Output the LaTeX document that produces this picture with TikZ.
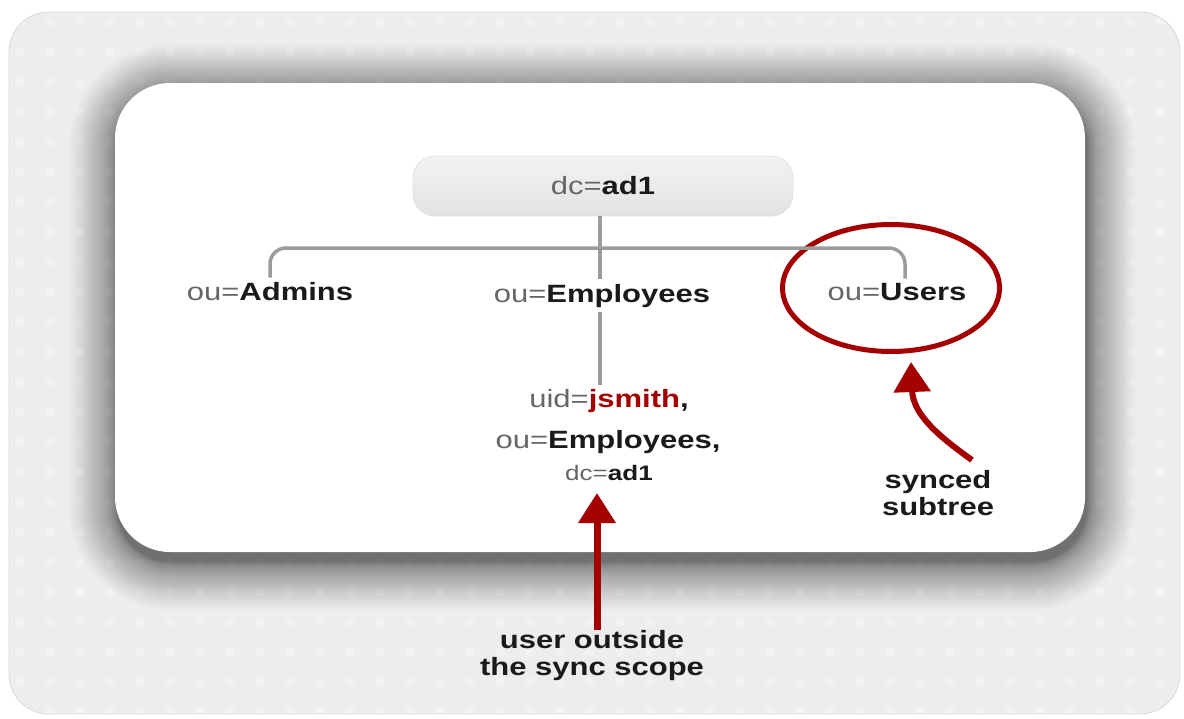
\documentclass[tikz,border=0pt]{standalone}
\usepackage{fontspec}
\setmainfont{Liberation Sans}[FakeStretch=1.24]
\usetikzlibrary{arrows.meta,shapes.geometric}
\definecolor{dkred}{HTML}{A40000}
\definecolor{pre}{HTML}{666666}
\definecolor{txt}{HTML}{1A1A1A}
\definecolor{treeline}{HTML}{9C9C9C}
\definecolor{bgout}{HTML}{EDEDED}
\newcommand\pfx[1]{{\color{pre}\mdseries #1}}
\begin{document}
\begin{tikzpicture}[x=1pt,y=-1pt,
  lbl/.style={font=\fontsize{25}{27}\selectfont\bfseries, text=txt, inner sep=4pt},
  smalllbl/.style={font=\fontsize{21}{23}\selectfont\bfseries, text=txt, inner sep=4pt},
  note/.style={font=\fontsize{25}{27}\selectfont\bfseries, text=txt, inner sep=0pt, align=center},
  pill/.style={lbl, rounded corners=22pt, minimum width=380pt, minimum height=60pt,
    top color=gray!10, bottom color=gray!22, draw=gray!25, line width=0.6pt},
  tree/.style={draw=treeline, line width=3.5pt},
  redarr/.style={draw=dkred, line width=7pt, -{Triangle[length=30pt,width=36pt]}},
  ring/.style={draw=dkred, line width=5pt, ellipse, minimum width=217pt, minimum height=127pt}
]
\useasboundingbox (0,0) rectangle (1184,718);
% outer panel with dots and soft shadow
\begin{scope}
  \clip[rounded corners=40pt] (9,12) rectangle (1180,714);
  \fill[bgout] (9,12) rectangle (1180,714);
  \foreach \x in {20,50,...,1180} {
    \foreach \y in {22,52,...,712} {
      \fill[white, opacity=0.28] (\x,\y) circle[radius=5pt];
    }
  }
  \foreach \i [evaluate=\i as \d using 0.03*\i*\i, evaluate=\i as \r using 55+0.03*\i*\i] in {1,...,40} {
    \fill[black, opacity=0.017, rounded corners=\r pt] ({117-\d},{92-\d}) rectangle ({1087+\d},{562+\d});
  }
\end{scope}
\draw[gray!30, line width=0.8pt, rounded corners=40pt] (9,12) rectangle (1180,714);
\fill[white, rounded corners=55pt] (115,83) rectangle (1085,552);

% nodes
\node[pill] (root) at (603,186) {\pfx{dc=}ad1};
\node[lbl, anchor=base] (adm) at (270,300) {\pfx{ou=}Admins};
\node[lbl, anchor=base, inner ysep=5pt] (emp) at (602,302) {\pfx{ou=}Employees};
\node[lbl, anchor=base] (usr) at (897,300) {\pfx{ou=}Users};
\node[lbl, anchor=base] (uid1) at (609,407) {\pfx{uid=}{\color{dkred}jsmith},};
\node[lbl, anchor=base] (uid2) at (608,448) {\pfx{ou=}Employees,};
\node[smalllbl, anchor=base] (uid3) at (609,480) {\pfx{dc=}ad1};
\node[ring] (scope) at (891,288) {};
\node[note, anchor=north] (syn) at (938,470) {synced\\subtree};
\node[note, anchor=north] (out) at (592,630) {user outside\\the sync scope};

% tree connectors
\coordinate (bar) at (600,248);
\draw[tree, rounded corners=16pt] (adm.north) |- (bar) -| ([xshift=8pt]usr.north);
\draw[tree] (root.south -| bar) -- (emp.north -| bar);
\draw[tree] (emp.south -| bar) -- (uid1.north -| bar);

% red arrows
\coordinate (tip1) at (597,493);
\coordinate (tip2) at (911,362);
\draw[redarr] (out.north -| tip1) -- (tip1);
\draw[redarr, line width=6pt] ([xshift=34pt,yshift=10pt]syn.north) .. controls (938,436) and (913,414) .. (tip2);
\end{tikzpicture}
\end{document}
